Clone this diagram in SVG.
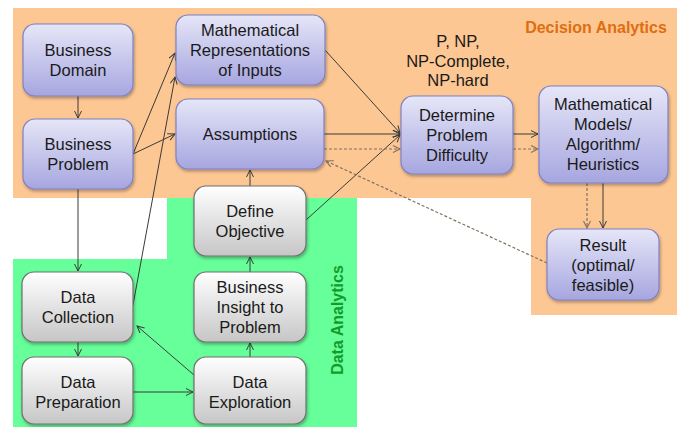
<svg xmlns="http://www.w3.org/2000/svg" width="680" height="427" viewBox="0 0 680 427">
<style>
text{font-family:"Liberation Sans",Arial,sans-serif;font-size:16.5px;fill:#1a1a1a;text-anchor:middle}
.b{fill:url(#gb);stroke:#8080C4;stroke-width:1.2}
.g{fill:url(#gg);stroke:#707070;stroke-width:1.2}
.c{stroke:#3a3a3a;stroke-width:1;fill:none;marker-end:url(#a)}
.d{stroke:#807060;stroke-width:1.2;stroke-dasharray:3 2;fill:none;marker-end:url(#ad)}
</style>
<defs>
<linearGradient id="gb" x1="0" y1="0" x2="0" y2="1"><stop offset="0" stop-color="#E6E6F8"/><stop offset="1" stop-color="#A6A6E0"/></linearGradient>
<linearGradient id="gg" x1="0" y1="0" x2="0" y2="1"><stop offset="0" stop-color="#FFFFFF"/><stop offset="1" stop-color="#C6C6C6"/></linearGradient>
<filter id="sh" x="-10%" y="-10%" width="130%" height="130%"><feDropShadow dx="1" dy="2" stdDeviation="1.5" flood-color="#000" flood-opacity="0.3"/></filter>
<marker id="a" markerWidth="10" markerHeight="10" refX="8" refY="4" orient="auto" markerUnits="userSpaceOnUse"><path d="M1,0.5 L8,4 L1,7.5" fill="none" stroke="#3a3a3a" stroke-width="1"/></marker>
<marker id="ad" markerWidth="10" markerHeight="10" refX="8" refY="4" orient="auto" markerUnits="userSpaceOnUse"><path d="M1,0.5 L8,4 L1,7.5" fill="none" stroke="#807060" stroke-width="1.1"/></marker>
</defs>
<g id="backgrounds">
<polygon points="13,8 677,8 677,315 531,315 531,198 13,198" fill="#FDC793"/>
<polygon points="167,198 357,198 357,427 13,427 13,259 167,259" fill="#66FF99"/>
<text x="596" y="33" style="font-weight:bold;font-size:16px;fill:#DE6E10">Decision Analytics</text>
<text transform="translate(343,320) rotate(-90)" style="font-weight:bold;font-size:16px;fill:#149B2B">Data Analytics</text>
<text x="458" y="47">P, NP,</text>
<text x="458" y="67">NP-Complete,</text>
<text x="458" y="86">NP-hard</text>
</g>
<g id="connectors">
<line class="c" x1="78" y1="96" x2="78" y2="118"/>
<line class="c" x1="133" y1="154" x2="175" y2="53"/>
<line class="c" x1="133" y1="154" x2="175" y2="134"/>
<line class="c" x1="133" y1="305" x2="175" y2="77"/>
<line class="c" x1="78" y1="189" x2="78" y2="271"/>
<line class="c" x1="78" y1="342" x2="78" y2="356"/>
<line class="c" x1="133" y1="392" x2="193" y2="392"/>
<line class="c" x1="194" y1="375" x2="137" y2="326"/>
<line class="c" x1="250" y1="357" x2="250" y2="343"/>
<line class="c" x1="250" y1="272" x2="250" y2="257"/>
<line class="c" x1="250" y1="186" x2="250" y2="170"/>
<line class="c" x1="306" y1="220" x2="400" y2="135"/>
<line class="c" x1="325" y1="50" x2="400" y2="133"/>
<line class="c" x1="324" y1="134" x2="400" y2="134"/>
<line class="d" x1="324" y1="149" x2="400" y2="149"/>
<line class="d" x1="547" y1="263" x2="326" y2="161"/>
<line class="c" x1="513" y1="134" x2="538" y2="134"/>
<line class="d" x1="513" y1="149" x2="538" y2="149"/>
<line class="c" x1="603" y1="183" x2="603" y2="228"/>
<line class="d" x1="587" y1="183" x2="587" y2="228"/>
</g>
<g id="business-domain"><rect class="b" filter="url(#sh)" x="23" y="24" width="110" height="72" rx="12"/><text x="78" y="56">Business</text><text x="78" y="76">Domain</text></g>
<g id="business-problem"><rect class="b" filter="url(#sh)" x="23" y="119" width="110" height="70" rx="12"/><text x="78" y="150">Business</text><text x="78" y="170">Problem</text></g>
<g id="math-representations"><rect class="b" filter="url(#sh)" x="176" y="15" width="149" height="70" rx="12"/><text x="250" y="36">Mathematical</text><text x="250" y="56">Representations</text><text x="250" y="76">of Inputs</text></g>
<g id="assumptions"><rect class="b" filter="url(#sh)" x="176" y="99" width="148" height="70" rx="12"/><text x="250" y="140">Assumptions</text></g>
<g id="determine-difficulty"><rect class="b" filter="url(#sh)" x="401" y="96" width="112" height="78" rx="12"/><text x="457" y="121">Determine</text><text x="457" y="141">Problem</text><text x="457" y="161">Difficulty</text></g>
<g id="math-models"><rect class="b" filter="url(#sh)" x="539" y="86" width="129" height="97" rx="12"/><text x="603" y="110">Mathematical</text><text x="603" y="130">Models/</text><text x="603" y="150">Algorithm/</text><text x="603" y="170">Heuristics</text></g>
<g id="result"><rect class="b" filter="url(#sh)" x="547" y="229" width="112" height="71" rx="12"/><text x="603" y="251">Result</text><text x="603" y="271">(optimal/</text><text x="603" y="291">feasible)</text></g>
<g id="define-objective"><rect class="g" filter="url(#sh)" x="194" y="186" width="112" height="70" rx="12"/><text x="250" y="217">Define</text><text x="250" y="237">Objective</text></g>
<g id="business-insight"><rect class="g" filter="url(#sh)" x="194" y="272" width="112" height="70" rx="12"/><text x="250" y="293">Business</text><text x="250" y="313">Insight to</text><text x="250" y="333">Problem</text></g>
<g id="data-collection"><rect class="g" filter="url(#sh)" x="22" y="272" width="111" height="70" rx="12"/><text x="78" y="303">Data</text><text x="78" y="323">Collection</text></g>
<g id="data-preparation"><rect class="g" filter="url(#sh)" x="22" y="357" width="111" height="67" rx="12"/><text x="78" y="388">Data</text><text x="78" y="408">Preparation</text></g>
<g id="data-exploration"><rect class="g" filter="url(#sh)" x="194" y="357" width="112" height="67" rx="12"/><text x="250" y="388">Data</text><text x="250" y="408">Exploration</text></g>
</svg>
